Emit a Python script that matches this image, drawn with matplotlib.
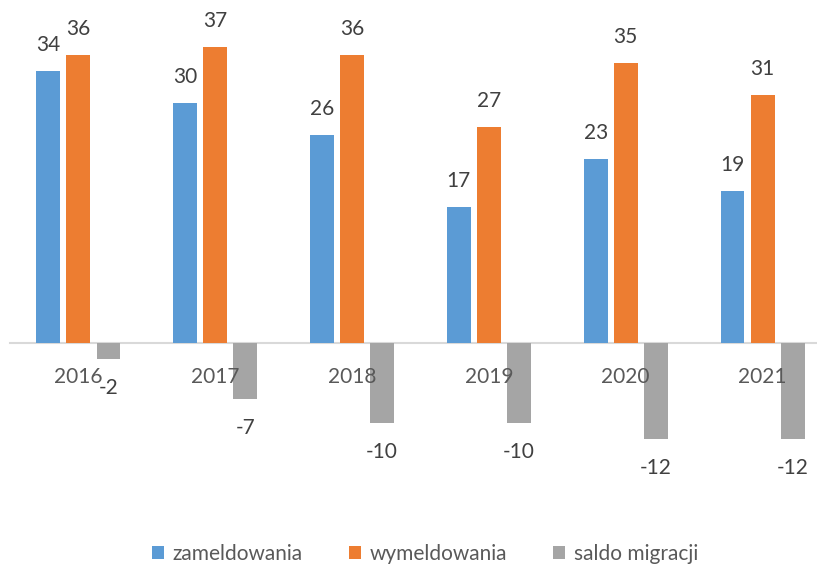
import matplotlib.pyplot as plt
import numpy as np

# dane
lata = ["2016", "2017", "2018", "2019", "2020", "2021"]
zameldowania = [34, 30, 26, 17, 23, 19]
wymeldowania = [36, 37, 36, 27, 35, 31]
saldo = [-2, -7, -10, -10, -12, -12]

plt.rcParams['font.family'] = ['Lato', 'DejaVu Sans']

W, H = 817, 564
fig = plt.figure(figsize=(W / 100, H / 100), dpi=100)
# obszar wykresu w pikselach: x od 10 do 831, y od 0 do 487
ax = fig.add_axes([10 / W, (H - 487) / H, 821 / W, 487 / H])

x = np.arange(len(lata))
w = 0.175
off = 0.22
serie = [
    (zameldowania, "zameldowania", "#5B9BD5", -off),
    (wymeldowania, "wymeldowania", "#ED7D31", 0),
    (saldo, "saldo migracji", "#A5A5A5", off),
]
for vals, name, col, dx in serie:
    bars = ax.bar(x + dx, vals, w, color=col, label=name, zorder=2)
    for b, v in zip(bars, vals):
        if v >= 0:
            ax.annotate(str(v), (b.get_x() + b.get_width() / 2, v),
                        xytext=(0, 19), textcoords="offset points",
                        ha="center", va="center", fontsize=15, color="#404040")
        else:
            ax.annotate(str(v), (b.get_x() + b.get_width() / 2, v),
                        xytext=(0, -21), textcoords="offset points",
                        ha="center", va="center", fontsize=15, color="#404040")

ax.set_xlim(-0.5, 5.5)
ax.set_ylim(-18, 42.875)
ax.set_axisbelow(False)
ax.spines['bottom'].set_position(('data', 0))
ax.spines['bottom'].set_color("#D9D9D9")
ax.spines['bottom'].set_linewidth(1.5)
ax.spines['bottom'].set_zorder(1)
for s in ['top', 'left', 'right']:
    ax.spines[s].set_visible(False)
ax.set_xticks(x)
ax.set_xticklabels(lata, fontsize=15, color="#595959")
ax.tick_params(axis="x", length=0, pad=17)
ax.set_yticks([])

fig.legend(loc="center", bbox_to_anchor=(425 / W, 10 / H), ncol=3, frameon=False,
           fontsize=15, labelcolor="#595959", handlelength=0.6, handleheight=0.6,
           handletextpad=0.4, columnspacing=2.2)

fig.savefig("out.png", dpi=100)
